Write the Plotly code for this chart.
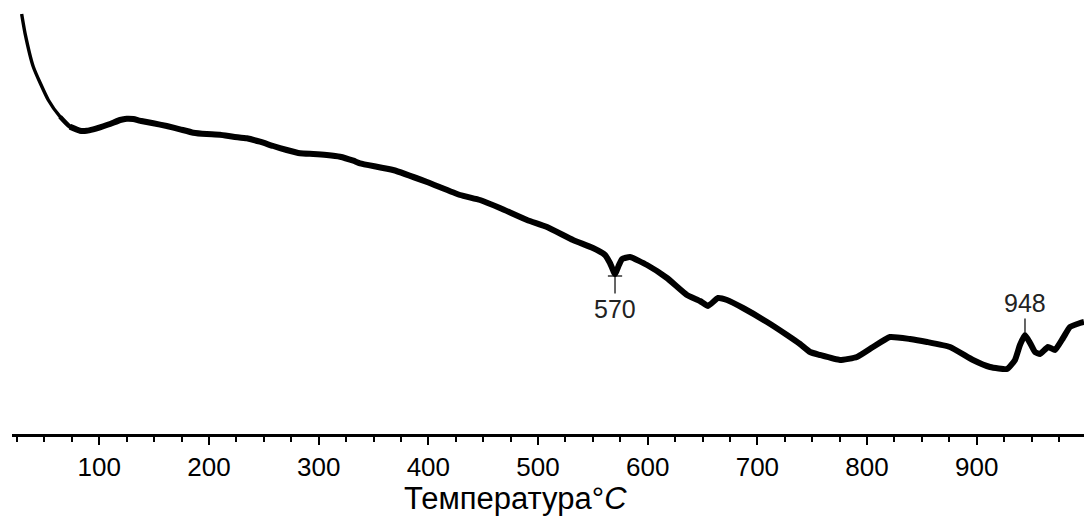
import numpy as np
import plotly.graph_objects as go

# Temperature (°C)
temperature = [29.2, 32.3, 39.8, 53.5, 64.2, 73.3, 82.4, 88.5, 94.5, 100.6,
               109.8, 118.9, 125.0, 131.0, 137.1, 149.2, 161.5, 173.6, 185.7, 197.9,
               210.0, 222.2, 234.4, 246.5, 258.6, 270.9, 283.0, 295.1, 307.3, 319.5,
               331.6, 337.7, 367.8, 398.8, 428.9, 447.1, 465.3, 490.0, 508.2, 531.9,
               550.1, 561.1, 565.6, 570.2, 573.8, 576.6, 583.9, 599.4, 617.6, 635.8,
               647.7, 655.0, 664.1, 672.3, 686.9, 708.8, 727.0, 738.9, 748.0, 757.1,
               775.3, 790.8, 805.4, 820.9, 839.1, 854.7, 875.6, 896.6, 912.1, 927.6,
               934.9, 939.4, 944.0, 948.6, 953.1, 957.7, 965.0, 971.4, 978.7, 985.0,
               994.2, 997.8]
# DTA signal (arbitrary units)
signal = [42.0, 40.07, 36.73, 33.4, 31.73, 30.73, 30.33, 30.33, 30.47, 30.67,
          31.0, 31.4, 31.53, 31.5, 31.33, 31.07, 30.8, 30.47, 30.13, 30.0,
          29.93, 29.73, 29.57, 29.23, 28.8, 28.4, 28.07, 28.0, 27.9, 27.73,
          27.33, 27.07, 26.4, 25.2, 23.9, 23.4, 22.6, 21.4, 20.7, 19.4,
          18.6, 17.9, 17.1, 16.0, 16.9, 17.5, 17.7, 16.9, 15.6, 13.9,
          13.3, 12.8, 13.6, 13.4, 12.6, 11.2, 9.9, 9.0, 8.2, 7.9,
          7.4, 7.7, 8.7, 9.7, 9.5, 9.2, 8.7, 7.4, 6.7, 6.5,
          7.4, 8.9, 9.9, 9.1, 8.2, 8.0, 8.7, 8.4, 9.6, 10.7,
          11.1, 11.2]

tick_values = [100, 200, 300, 400, 500, 600, 700, 800, 900]
tick_labels = ["100", "200", "300", "400", "500", "600", "700", "800", "900"]
peak_labels = ["570", "948"]

T = np.array(temperature)
S = np.array(signal)

fig = go.Figure()
split = 5
fig.add_trace(go.Scatter(x=T[:split + 2], y=S[:split + 2], mode="lines",
                         line=dict(color="black", width=3.4, shape="spline", smoothing=0.5),
                         hoverinfo="skip", showlegend=False))
fig.add_trace(go.Scatter(x=T[split - 1:split + 3], y=S[split - 1:split + 3], mode="lines",
                         line=dict(color="black", width=4.6, shape="spline", smoothing=0.5),
                         hoverinfo="skip", showlegend=False))
fig.add_trace(go.Scatter(x=T[split:], y=S[split:], mode="lines",
                         line=dict(color="black", width=6, shape="spline", smoothing=0.4),
                         hoverinfo="skip", showlegend=False))

# peak markers located from the data
win1 = (T > 550) & (T < 590)
i1 = np.where(win1)[0][np.argmin(S[win1])]
win2 = (T > 930) & (T < 960)
i2 = np.where(win2)[0][np.argmax(S[win2])]

label_font = dict(family="Liberation Sans, Arial, sans-serif", size=25, color="#222")
annotations = [
    dict(x=T[i1], y=S[i1], xref="x", yref="y", text=peak_labels[0], showarrow=True,
         arrowhead=0, arrowwidth=1.2, arrowcolor="black", ax=0, ay=35, standoff=0,
         font=label_font, yanchor="middle"),
    dict(x=T[i2], y=S[i2], xref="x", yref="y", text=peak_labels[1], showarrow=True,
         arrowhead=0, arrowwidth=1.2, arrowcolor="black", ax=0, ay=-32, standoff=3,
         font=label_font, yanchor="middle"),
    dict(x=0.470, y=-0.1912, xref="paper", yref="paper", showarrow=False,
         text="Температура°<i>C</i>",
         font=dict(family="Liberation Sans, Arial, sans-serif", size=31, color="black"),
         xanchor="center", yanchor="bottom", borderpad=0),
]

shapes = [
    dict(type="line", xref="x", yref="y", x0=T[i1] - 6.5, x1=T[i1] + 6.5,
         y0=S[i1] - 0.2, y1=S[i1] - 0.2, line=dict(color="black", width=1.2)),
]

fig.update_layout(
    width=1084, height=517,
    margin=dict(l=12, r=0, t=0, b=83),
    paper_bgcolor="white", plot_bgcolor="white",
    annotations=annotations, shapes=shapes,
    xaxis=dict(range=[20.4, 997.8], showgrid=False, zeroline=False,
               showline=True, linecolor="black", linewidth=2.5,
               ticks="outside", ticklen=8, tickwidth=2, tickcolor="black",
               tickvals=tick_values, ticktext=tick_labels,
               tickfont=dict(family="Liberation Sans, Arial, sans-serif",
                             size=26, color="black"),
               minor=dict(ticks="outside", ticklen=5, tickwidth=2, tickcolor="black",
                          tick0=0, dtick=25)),
    yaxis=dict(range=[0, 43.4], visible=False, showgrid=False, zeroline=False),
)

fig.write_html("out.html")
